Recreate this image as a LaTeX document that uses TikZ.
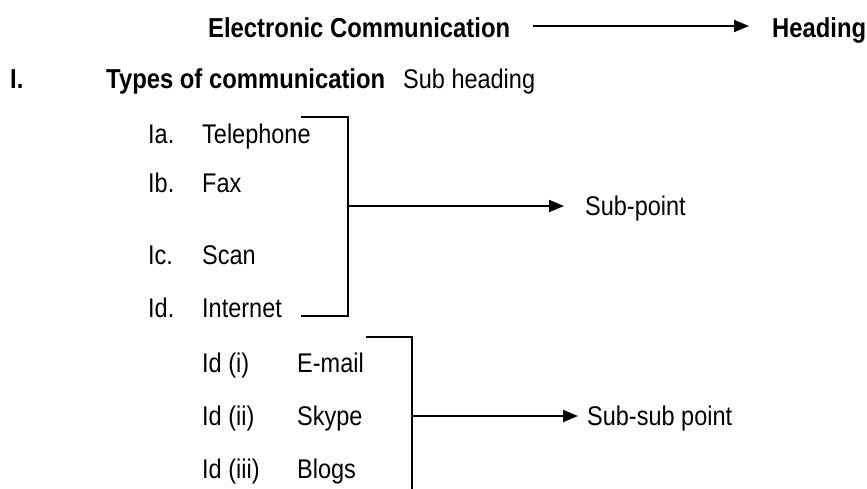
\documentclass[tikz,border=0pt]{standalone}
\usepackage{fontspec}
\setmainfont[FakeStretch=0.87]{Liberation Sans}
\usetikzlibrary{arrows.meta}
\begin{document}
\begin{tikzpicture}[x=1pt,y=-1pt,
  txt/.style={anchor=base west,inner sep=0pt,font=\fontsize{27}{32}\selectfont},
  btxt/.style={anchor=base west,inner sep=0pt,font=\fontsize{27.4}{33}\selectfont\bfseries},
  ln/.style={line width=2pt,line cap=rect},
  arr/.style={line width=2pt,-{Triangle[length=15pt,width=12pt]}}]
\useasboundingbox (0,0) rectangle (867,488);
% heading
\node[btxt] (ec) at (208,37) {Electronic Communication};
\node[btxt] (hd) at (772,37) {Heading};
\coordinate (a0s) at (533,26);
\coordinate (a0e) at (749,26);
\draw[arr] (a0s) -- (a0e);
% section
\node[btxt] (I) at (10,88) {I.};
\node[btxt] (types) at (106,88) {Types of communication};
\node[txt] (subh) at (403,88) {Sub heading};
% sub points
\node[txt] (la) at (148,143) {Ia.};
\node[txt] (ta) at (202,143) {Telephone};
\node[txt] (lb) at (148,192) {Ib.};
\node[txt] (tb) at (202,192) {Fax};
\node[txt] (lc) at (148,264) {Ic.};
\node[txt] (tc) at (202,264) {Scan};
\node[txt] (ld) at (148,317) {Id.};
\node[txt] (td) at (202,317) {Internet};
\node[txt] (sp) at (585,215) {Sub-point};
% bracket 1
\coordinate (b1a) at (302,117);
\coordinate (b1b) at (348,117);
\coordinate (b1c) at (348,316);
\coordinate (b1d) at (302,316);
\coordinate (b1m) at (348,206);
\coordinate (b1t) at (564,206);
\draw[ln] (b1a) -- (b1b) -- (b1c) -- (b1d);
\draw[arr] (b1m) -- (b1t);
% sub-sub points
\node[txt] (l1) at (202,372) {Id (i)};
\node[txt] (t1) at (297,372) {E-mail};
\node[txt] (l2) at (202,425) {Id (ii)};
\node[txt] (t2) at (297,425) {Skype};
\node[txt] (l3) at (202,478) {Id (iii)};
\node[txt] (t3) at (297,478) {Blogs};
\node[txt] (ssp) at (587,425) {Sub-sub point};
% bracket 2
\coordinate (b2a) at (367,337);
\coordinate (b2b) at (412,337);
\coordinate (b2c) at (412,490);
\coordinate (b2m) at (412,416);
\coordinate (b2t) at (578,416);
\draw[ln] (b2a) -- (b2b) -- (b2c);
\draw[arr] (b2m) -- (b2t);
\end{tikzpicture}
\end{document}
